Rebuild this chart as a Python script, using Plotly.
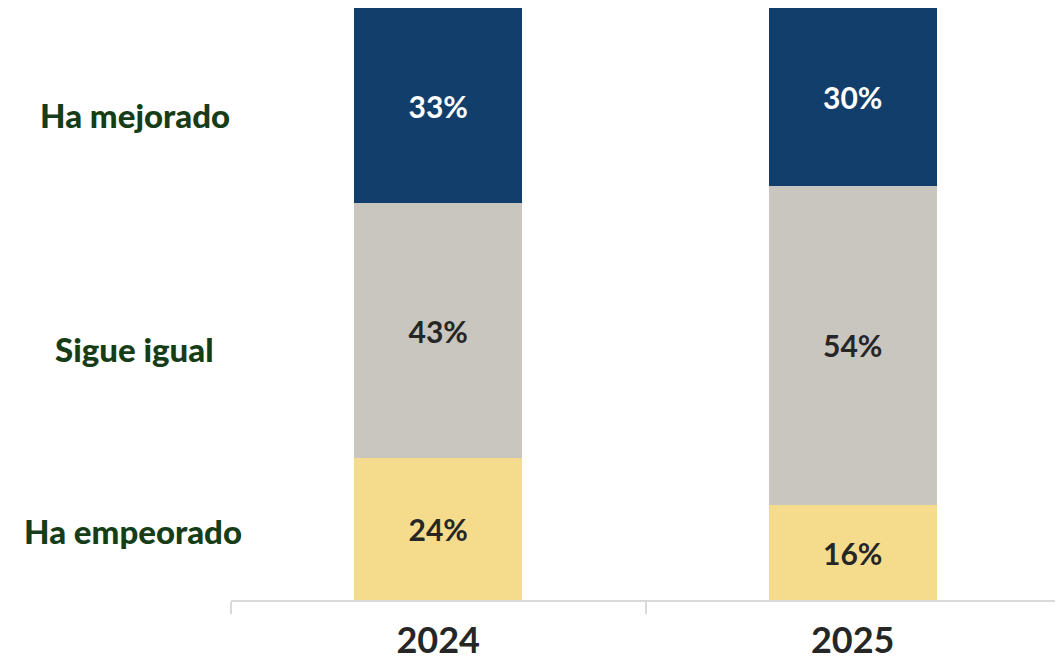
import plotly.graph_objects as go

years = ["2024", "2025"]
categories = ["Ha empeorado", "Sigue igual", "Ha mejorado"]
empeorado = [24, 16]
igual = [43, 54]
mejorado = [33, 30]

colors = ["#f5dc8d", "#c9c6bf", "#123e6b"]
text_colors = ["#262626", "#262626", "#ffffff"]
FONT = "Lato"

fig = go.Figure()
for name, vals, c, tc in zip(categories, [empeorado, igual, mejorado], colors, text_colors):
    fig.add_trace(go.Bar(
        x=years, y=vals, name=name, marker_color=c, marker_line_width=0,
        text=[f"<b>{v}%</b>" for v in vals], textposition="inside", insidetextanchor="middle",
        textangle=0, textfont=dict(size=30, color=tc, family=FONT),
        constraintext="none",
    ))

# side labels (page pixel positions, page has 8px body margin)
W, H = 1055, 653
L, R, T, B = 223, 3, 0, 61
label_px = [(133, 531), (134, 349), (135, 115)]
for name, (px, py) in zip(categories, label_px):
    fig.add_annotation(
        x=(px - 8 - L) / (W - L - R), y=(H - B - (py - 8)) / (H - T - B),
        xref="paper", yref="paper", text=name,
        showarrow=False, font=dict(size=33, color="#163d17", family=FONT, weight=900),
        xanchor="center", yanchor="middle",
    )

fig.update_layout(
    barmode="stack", bargap=0.595, showlegend=False,
    width=W, height=H, plot_bgcolor="white", paper_bgcolor="white",
    margin=dict(l=L, r=R, t=T, b=B),
)
fig.update_xaxes(
    showline=True, linecolor="#d9d9d9", linewidth=2, ticks="outside",
    tickson="boundaries", ticklen=12, tickcolor="#d9d9d9", tickwidth=2,
    tickfont=dict(size=36, color="#262626", family=FONT),
    tickprefix="<b>", ticksuffix="</b>", ticklabelstandoff=8, automargin=False,
)
fig.update_yaxes(range=[0, 100], visible=False)

fig.write_html("out.html")
